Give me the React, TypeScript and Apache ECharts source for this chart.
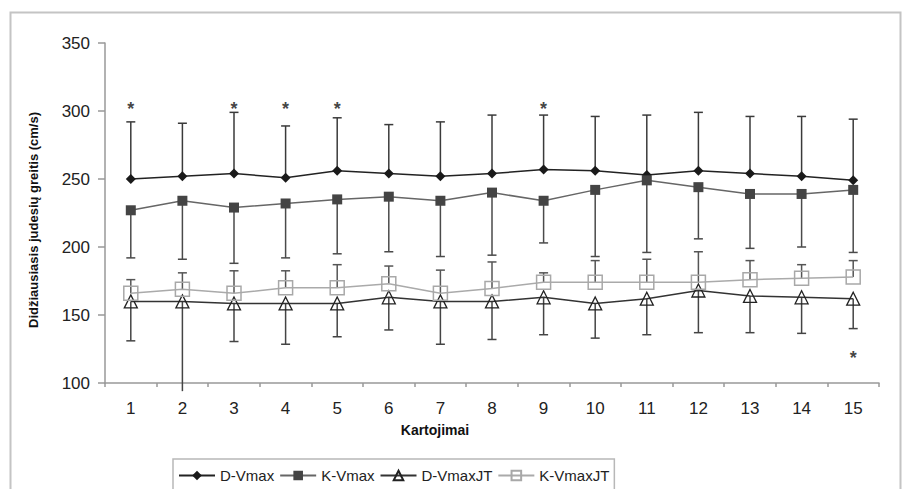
import React, { useEffect, useRef } from "react";
import * as echarts from "echarts";

const categories = ["1", "2", "3", "4", "5", "6", "7", "8", "9", "10", "11", "12", "13", "14", "15"];
const yTicks = { min: 100, max: 350, interval: 50 };

const dVmax = [250, 252, 254, 251, 256, 254, 252, 254, 257, 256, 253, 256, 254, 252, 249];
const dVmaxUpper = [292, 291, 299, 289, 295, 290, 292, 297, 297, 296, 297, 299, 296, 296, 294];

const kVmax = [227, 234, 229, 232, 235, 237, 234, 240, 234, 242, 249, 244, 239, 239, 242];
const kVmaxLower = [192, 191, 188, 192, 195, 196.5, 193, 194, 203, 193, 196, 206, 199, 200, 196];

const dVmaxJT = [160, 160, 158.5, 158.5, 158.5, 163, 160, 160, 163, 158.5, 162, 168, 164, 163, 162];
const dVmaxJTLower = [131, 94, 130.5, 128.5, 134, 139, 128.5, 132, 135.5, 133, 135.5, 137, 137, 136.5, 140];

const kVmaxJT = [166, 169, 166, 170, 170, 173, 166, 169.5, 174, 174, 174, 174, 176, 177, 178];
const kVmaxJTUpper = [176, 181, 182.5, 182.5, 187, 186, 183, 189, 181, 190, 191, 196.5, 190, 187, 190];

const starPoints = [
  [0, 305],
  [2, 305],
  [3, 305],
  [4, 305],
  [8, 305],
  [14, 122],
];

const seriesNames = ["D-Vmax", "K-Vmax", "D-VmaxJT", "K-VmaxJT"];
const FONT = "'Liberation Sans', Arial, sans-serif";

function errorSeries(base: number[], ends: number[], color: string) {
  return {
    type: "custom",
    silent: true,
    z: 1,
    data: base.map((b, i) => [i, b, ends[i]]),
    renderItem: (params: any, api: any) => {
      const i = api.value(0);
      const b = api.value(1);
      const e = api.value(2);
      const p0 = api.coord([i, b]);
      const p1 = api.coord([i, e]);
      const children: any[] = [
        {
          type: "line",
          shape: { x1: p0[0], y1: p0[1], x2: p1[0], y2: p1[1] },
          style: { stroke: color, lineWidth: 1.5 },
        },
      ];
      if (e >= yTicks.min) {
        children.push({
          type: "line",
          shape: { x1: p1[0] - 4.5, y1: p1[1], x2: p1[0] + 4.5, y2: p1[1] },
          style: { stroke: color, lineWidth: 1.5 },
        });
      }
      return { type: "group", children };
    },
  };
}

export default function App() {
  const ref = useRef<HTMLDivElement>(null);
  useEffect(() => {
    const chart = echarts.init(ref.current!, null, { renderer: "svg" });
    const option: any = {
      animation: false,
      backgroundColor: "#ffffff",
      textStyle: { fontFamily: FONT },
      grid: { left: 105, right: 23, top: 43, bottom: 106, containLabel: false, outerBoundsMode: "none" },
      xAxis: {
        type: "category",
        data: categories,
        boundaryGap: true,
        axisLine: { lineStyle: { color: "#999", width: 1.5 } },
        axisTick: { show: true, length: 4, lineStyle: { color: "#999", width: 1.5 } },
        axisLabel: { color: "#222", fontSize: 17, margin: 17, fontFamily: FONT },
        splitLine: { show: false },
      },
      yAxis: {
        type: "value",
        min: yTicks.min,
        max: yTicks.max,
        interval: yTicks.interval,
        axisLine: { show: true, lineStyle: { color: "#999", width: 1.5 } },
        axisTick: { show: true, length: 7, lineStyle: { color: "#999", width: 1.5 } },
        axisLabel: { color: "#222", fontSize: 17, margin: 15, fontFamily: FONT },
        splitLine: { show: false },
      },
      legend: {
        data: seriesNames,
        left: 173,
        top: 459,
        padding: [9, 5, 30, 5],
        borderColor: "#b8b8b8",
        borderWidth: 1.5,
        itemWidth: 36,
        itemHeight: 12,
        itemGap: 5,
        textStyle: { fontSize: 15, color: "#222", fontFamily: FONT },
      },
      graphic: [
        {
          type: "rect",
          silent: true,
          z: -10,
          shape: { x: 10.5, y: 12.5, width: 890, height: 520 },
          style: { fill: "none", stroke: "#c4c4c4", lineWidth: 2 },
        },
        {
          type: "text",
          x: 33,
          y: 220,
          rotation: Math.PI / 2,
          style: {
            text: "Didžiausiasis judesių greitis (cm/s)",
            font: `bold 13px ${FONT}`,
            fill: "#111",
            align: "center",
            verticalAlign: "middle",
          },
        },
        {
          type: "text",
          x: 435,
          y: 430,
          style: {
            text: "Kartojimai",
            font: `bold 14px ${FONT}`,
            fill: "#111",
            align: "center",
            verticalAlign: "middle",
          },
        },
      ],
      series: [
        errorSeries(dVmax, dVmaxUpper, "#3a3a3a"),
        errorSeries(kVmax, kVmaxLower, "#4a4a4a"),
        errorSeries(dVmaxJT, dVmaxJTLower, "#444"),
        errorSeries(kVmaxJT, kVmaxJTUpper, "#555"),
        {
          name: "D-Vmax",
          type: "line",
          z: 5,
          data: dVmax,
          symbol: "diamond",
          symbolSize: 10,
          lineStyle: { color: "#222", width: 1.5 },
          itemStyle: { color: "#1a1a1a" },
        },
        {
          name: "K-Vmax",
          type: "line",
          z: 5,
          data: kVmax,
          symbol: "rect",
          symbolSize: 10,
          lineStyle: { color: "#666", width: 1.5 },
          itemStyle: { color: "#444" },
        },
        {
          name: "D-VmaxJT",
          type: "line",
          z: 4,
          data: dVmaxJT,
          symbol: "triangle",
          symbolSize: 13,
          lineStyle: { color: "#333", width: 1.5 },
          itemStyle: { color: "rgba(255,255,255,0)", borderColor: "#222", borderWidth: 1.3 },
        },
        {
          name: "K-VmaxJT",
          type: "line",
          z: 4,
          data: kVmaxJT,
          symbol: "rect",
          symbolSize: 14,
          lineStyle: { color: "#aaa", width: 1.5 },
          itemStyle: { color: "rgba(255,255,255,0)", borderColor: "#a8a8a8", borderWidth: 1.5 },
        },
        {
          type: "scatter",
          silent: true,
          z: 6,
          data: starPoints,
          symbolSize: 1,
          itemStyle: { color: "rgba(0,0,0,0)" },
          label: {
            show: true,
            position: "inside",
            formatter: "*",
            fontSize: 18,
            fontWeight: "bold",
            color: "#111",
            offset: [0, 5],
          },
        },
      ],
    };
    chart.setOption(option);
    return () => chart.dispose();
  }, []);
  return <div ref={ref} style={{ position: "fixed", left: 0, top: 0, width: 902, height: 489 }} />;
}
